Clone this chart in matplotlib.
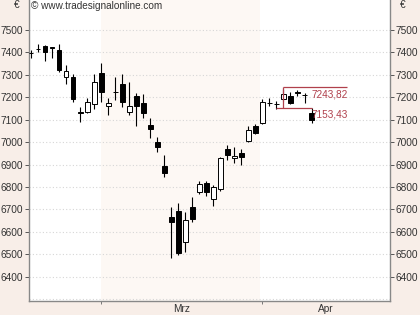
import numpy as np
import matplotlib
matplotlib.use("Agg")
import matplotlib.pyplot as plt

plt.rcParams['font.family'] = ['Liberation Sans', 'DejaVu Sans']

# daily candles (Feb .. Apr)
opens  = [7394, 7413, 7427, 7422, 7409, 7288, 7290, 7132, 7135, 7169,
          7305, 7161, 7222, 7256, 7135, 7204, 7172, 7076, 6999, 6893,
          6665, 6693, 6554, 6710, 6779, 6819, 6745, 6791, 6967, 6928,
          6950, 7006, 7070, 7083, 7172, 7169, 7191, 7206, 7223, 7211, 7128]
highs  = [7409, 7434, 7431, 7422, 7434, 7342, 7301, 7157, 7194, 7301,
          7350, 7197, 7290, 7301, 7268, 7216, 7213, 7105, 7021, 6942,
          6712, 6730, 6690, 6757, 6828, 6828, 6809, 6935, 6987, 6979,
          6969, 7071, 7078, 7190, 7197, 7184, 7236, 7224, 7231, 7216, 7150]
lows   = [7375, 7401, 7360, 7375, 7310, 7256, 7179, 7087, 7128, 7147,
          7179, 7120, 7187, 7157, 7120, 7071, 7105, 7016, 6957, 6846,
          6483, 6498, 6512, 6646, 6769, 6760, 6716, 6782, 6920, 6905,
          6898, 7001, 7034, 7078, 7161, 7145, 7181, 7168, 7206, 7172, 7083]
closes = [7394, 7413, 7401, 7417, 7320, 7316, 7191, 7129, 7179, 7265,
          7221, 7175, 7222, 7179, 7160, 7160, 7128, 7058, 6976, 6864,
          6643, 6508, 6653, 6658, 6813, 6776, 6801, 6930, 6942, 6938,
          6932, 7053, 7039, 7176, 7172, 7169, 7212, 7172, 7219, 7208, 7098]

month_starts = [10, 33]          # first bar of Mrz / Apr
month_labels = ["Mrz", "Apr"]
n_slots = 51.2                   # right edge of the chart in bar units

upper_level, lower_level = 7243.82, 7153.43
upper_span = (36, 45)
lower_span = (35, 40)

fig = plt.figure(figsize=(4.2, 3.15), dpi=100, facecolor='#f8eee8')
ax = fig.add_axes([0.069, 0.0445, 0.8595, 0.955])
ax.set_facecolor('white')

x = np.arange(len(opens))
o, h, l, c = map(np.array, (opens, highs, lows, closes))

ax.axvspan(month_starts[0] - 0.05, month_starts[1] - 0.4, color='#fdf8f4', zorder=0, lw=0)

for v in range(6300, 7600, 100):
    ax.axhline(v, color='#d6d6d6', lw=0.8, ls=(0, (1, 2)), zorder=1)

ax.vlines(x, l, h, color='black', lw=0.8, zorder=2)
up = c >= o
ax.bar(x, np.abs(c - o), bottom=np.minimum(o, c), width=0.62,
       color=np.where(up, 'white', 'black'), edgecolor='black', lw=0.7, zorder=3)

red = '#b0404c'
ax.hlines(upper_level, *upper_span, color=red, lw=0.9, zorder=4)
ax.hlines(lower_level, *lower_span, color=red, lw=0.9, zorder=4)
ax.vlines(upper_span[0], lower_level, upper_level, color=red, lw=0.9, zorder=4)
ax.text(40.05, upper_level - 8, "7243,82", color=red, fontsize=7.2, va='top', ha='left')
ax.text(40.05, lower_level - 8, "7153,43", color=red, fontsize=7.2, va='top', ha='left')

ax.set_xlim(-0.33, n_slots)
ax.set_ylim(6293, 7631)

ax.set_yticks(range(6400, 7600, 100))
ax.tick_params(axis='y', which='both', left=True, right=True, labelleft=True,
               labelright=True, length=3, width=0.7, color='#555555',
               labelsize=7.3, labelcolor='#333333', pad=1)

ax.set_xticks(month_starts)
ax.set_xticklabels([])
label_pos = [(month_starts[0] + month_starts[1]) / 2, (month_starts[1] + n_slots) / 2]
ax.set_xticks(label_pos, minor=True)
ax.set_xticklabels(month_labels, minor=True)
ax.tick_params(axis='x', which='major', length=2, width=0.7, color='#777777')
ax.tick_params(axis='x', which='minor', length=0, labelsize=7.3, labelcolor='#333333', pad=2)

for s in ['left', 'right', 'bottom']:
    ax.spines[s].set_color('#888888')
    ax.spines[s].set_linewidth(1.0)
ax.spines['top'].set_visible(False)

ax.text(0.005, 0.997, "\u00a9 www.tradesignalonline.com", transform=ax.transAxes,
        fontsize=7.2, color='#333333', va='top', ha='left')
fig.text(17 / 420, 1 - 5 / 315, "\u20ac", fontsize=7.3, color='#333333', ha='center', va='center')
fig.text(403 / 420, 1 - 5 / 315, "\u20ac", fontsize=7.3, color='#333333', ha='center', va='center')

fig.savefig("out.png", dpi=100, facecolor=fig.get_facecolor())
